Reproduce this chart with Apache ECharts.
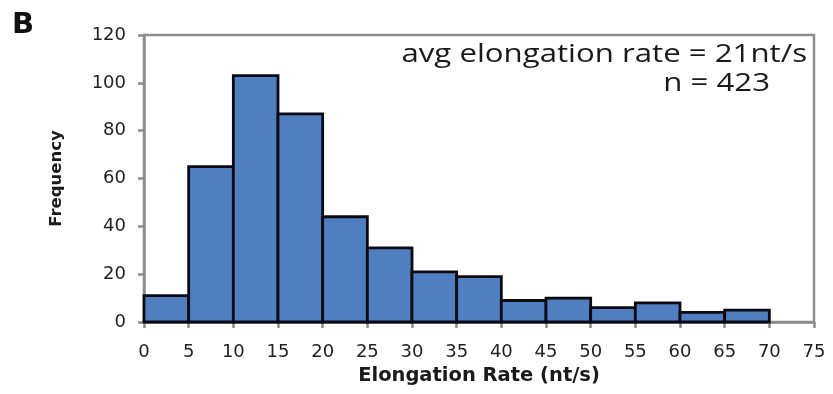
<!DOCTYPE html>
<html><head><meta charset="utf-8">
<script src="https://cdn.jsdelivr.net/npm/echarts@6/dist/echarts.min.js"></script>
<style>html,body{margin:0;padding:0;background:#fff}#c{width:833px;height:394px}</style>
</head><body><div id="c"></div>
<script>
const binStarts = [0,5,10,15,20,25,30,35,40,45,50,55,60,65];
const binWidth = 5;
const frequencies = [11,65,103,87,44,31,21,19,9,10,6,8,4,5];
const xTicks = {min:0, max:75, interval:5};
const yTicks = {min:0, max:120, interval:20};
const panelLabel = 'B';
const annotationLines = ['avg elongation rate = 21nt/s', 'n = 423'];
const xTitle = 'Elongation Rate (nt/s)';
const yTitle = 'Frequency';

const data = binStarts.map((s,i)=>[s, s+binWidth, frequencies[i]]);
const font = 'DejaVu Sans';
const chart = echarts.init(document.getElementById('c'));
chart.setOption({
  animation:false,
  backgroundColor:'#fff',
  grid:{left:144,top:35,right:19,bottom:72,show:true,borderColor:'#8c8c8c',borderWidth:2.5,backgroundColor:'transparent'},
  xAxis:{type:'value',min:xTicks.min,max:xTicks.max,interval:xTicks.interval,
    splitLine:{show:false},
    axisLine:{lineStyle:{color:'#8c8c8c',width:2.5}},
    axisTick:{show:true,length:6,lineStyle:{color:'#8c8c8c',width:2.5}},
    axisLabel:{fontFamily:font,fontSize:18,color:'#222',margin:21},
    name:xTitle,nameLocation:'middle',nameGap:42,
    nameTextStyle:{fontFamily:font,fontSize:19.5,fontWeight:'bold',color:'#1a1a1a'}
  },
  yAxis:{type:'value',min:yTicks.min,max:yTicks.max,interval:yTicks.interval,
    splitLine:{show:false},
    axisLine:{show:true,lineStyle:{color:'#8c8c8c',width:2.5}},
    axisTick:{show:true,length:6,lineStyle:{color:'#8c8c8c',width:2.5}},
    axisLabel:{fontFamily:font,fontSize:18,color:'#222',margin:18},
    name:yTitle,nameLocation:'middle',nameGap:79,
    nameTextStyle:{fontFamily:font,fontSize:16.5,fontWeight:'bold',color:'#1a1a1a'}
  },
  graphic:[
    {type:'text',x:12,y:25,style:{text:panelLabel,font:'bold 29px "DejaVu Sans"',fill:'#111',textVerticalAlign:'middle'}},
    {type:'text',x:807,y:55,scaleX:1.2,style:{text:annotationLines[0],font:'26px "Open Sans"',fill:'#1a1a1a',textAlign:'right',textVerticalAlign:'middle'}},
    {type:'text',x:770,y:84,scaleX:1.2,style:{text:annotationLines[1],font:'26px "Open Sans"',fill:'#1a1a1a',textAlign:'right',textVerticalAlign:'middle'}}
  ],
  series:[{
    type:'custom',
    data:data,
    encode:{x:[0,1],y:2},
    renderItem:function(params,api){
      const p0 = api.coord([api.value(0), api.value(2)]);
      const p1 = api.coord([api.value(1), 0]);
      return {type:'rect',shape:{x:p0[0],y:p0[1],width:p1[0]-p0[0],height:p1[1]-p0[1]},
        style:{fill:'#4f7fbf',stroke:'#0a0a14',lineWidth:2.8}};
    }
  }]
});
</script></body></html>
